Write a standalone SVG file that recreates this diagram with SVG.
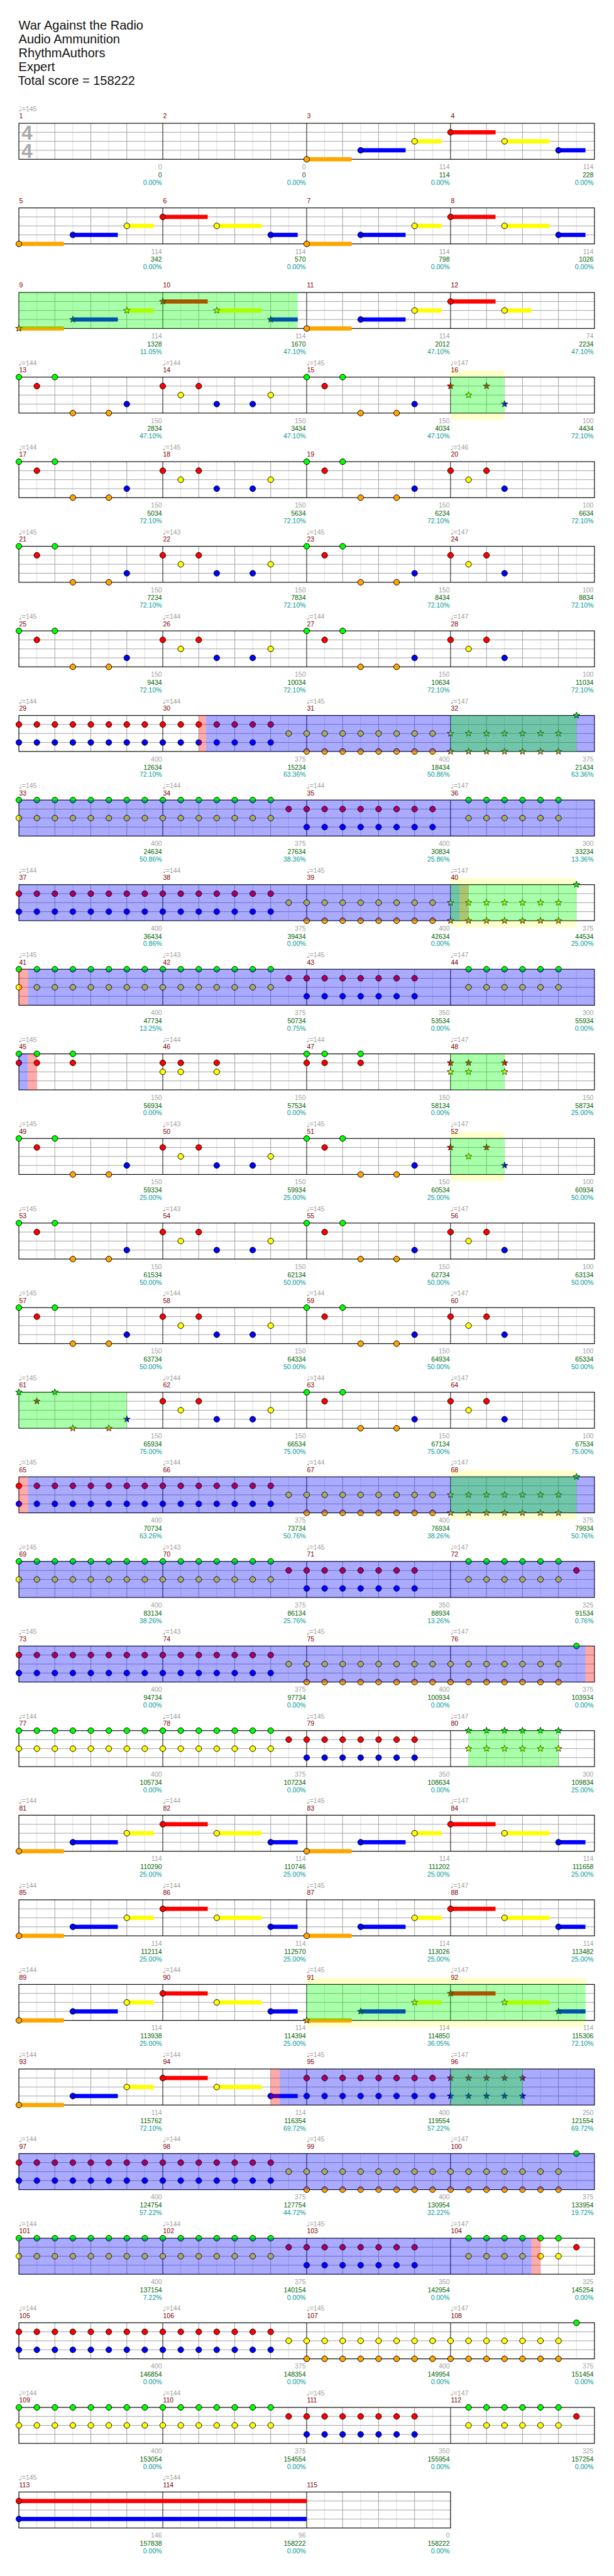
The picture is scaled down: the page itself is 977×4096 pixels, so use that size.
<svg xmlns="http://www.w3.org/2000/svg" width="977" height="4096" viewBox="0 0 977 4096">
<style>
.h{font:21px "Liberation Sans",Arial,sans-serif;fill:#111}
.mn{font:11px "Liberation Sans",Arial,sans-serif;fill:#800000}
.tp{font:11px "Liberation Sans",Arial,sans-serif;fill:#a0a0a0}
.q{font:12px "DejaVu Sans",sans-serif;fill:#a0a0a0}
.ts{font:bold 33px "Liberation Sans",Arial,sans-serif;fill:#aaaaaa}
.a,.b,.c{font:11px "Liberation Sans",Arial,sans-serif;text-anchor:end}
.a{fill:#a0a0a0}.b{fill:#006400}.c{fill:#009999}
.og{fill:#00ff00;fill-opacity:.333}
.ob{fill:#0000ff;fill-opacity:.333}
.or{fill:#ff0000;fill-opacity:.333}
.yt{fill:#ffffcc}
</style>
<defs>
<circle id="nG" r="4.8" fill="#00ff00" stroke="#000"/>
<circle id="nR" r="4.8" fill="#ff0000" stroke="#000"/>
<circle id="nY" r="4.8" fill="#ffff00" stroke="#000"/>
<circle id="nB" r="4.8" fill="#0000ff" stroke="#000"/>
<circle id="nO" r="4.8" fill="#ffa500" stroke="#000"/>
<path id="st" d="M0,-5.8L1.35,-1.86L5.52,-1.79L2.19,0.71L3.41,4.69L0,2.3L-3.41,4.69L-2.19,0.71L-5.52,-1.79L-1.35,-1.86Z" stroke="#000" stroke-width="0.8"/>
<use id="sG" href="#st" fill="#00ff00"/>
<use id="sR" href="#st" fill="#ff0000"/>
<use id="sY" href="#st" fill="#ffff00"/>
<use id="sB" href="#st" fill="#0000ff"/>
<use id="sO" href="#st" fill="#ffa500"/>
<g id="S4">
<rect width="960" height="60" fill="#fff"/>
<path stroke="#dcdcdc" d="M30 0V60M90 0V60M150 0V60M210 0V60M270 0V60M330 0V60M390 0V60M450 0V60M510 0V60M570 0V60M630 0V60M690 0V60M750 0V60M810 0V60M870 0V60M930 0V60"/>
<path stroke="#a0a0a0" d="M60 0V60M120 0V60M180 0V60M300 0V60M360 0V60M420 0V60M540 0V60M600 0V60M660 0V60M780 0V60M840 0V60M900 0V60M0 15H960M0 30H960M0 45H960"/>
<path stroke="#000" d="M240 0V60M480 0V60M720 0V60"/>
<rect width="960" height="60" fill="none" stroke="#000" stroke-width="1.2"/>
</g>
<g id="S3">
<rect width="720" height="60" fill="#fff"/>
<path stroke="#dcdcdc" d="M30 0V60M90 0V60M150 0V60M210 0V60M270 0V60M330 0V60M390 0V60M450 0V60M510 0V60M570 0V60M630 0V60M690 0V60"/>
<path stroke="#a0a0a0" d="M60 0V60M120 0V60M180 0V60M300 0V60M360 0V60M420 0V60M540 0V60M600 0V60M660 0V60M0 15H720M0 30H720M0 45H720"/>
<path stroke="#000" d="M240 0V60M480 0V60"/>
<rect width="720" height="60" fill="none" stroke="#000" stroke-width="1.2"/>
</g>
<g id="cGY"><use href="#nG"/><use href="#nY" y="30"/></g>
<g id="cRB"><use href="#nR" y="15"/><use href="#nB" y="45"/></g>
<g id="cYO"><use href="#nY" y="30"/><use href="#nO" y="60"/></g>
<g id="cGR"><use href="#nG"/><use href="#nR" y="15"/></g>
<g id="cRY"><use href="#nR" y="15"/><use href="#nY" y="30"/></g>
<g id="kYO"><use href="#sY" y="30"/><use href="#sO" y="60"/></g>
<g id="kGY"><use href="#sG"/><use href="#sY" y="30"/></g>
<g id="kRB"><use href="#sR" y="15"/><use href="#sB" y="45"/></g>
<g id="kRY"><use href="#sR" y="15"/><use href="#sY" y="30"/></g>
<g id="GY8"><use href="#cGY"/><use href="#cGY" x="30"/><use href="#cGY" x="60"/><use href="#cGY" x="90"/><use href="#cGY" x="120"/><use href="#cGY" x="150"/><use href="#cGY" x="180"/><use href="#cGY" x="210"/></g>
<g id="GY7"><use href="#cGY"/><use href="#cGY" x="30"/><use href="#cGY" x="60"/><use href="#cGY" x="90"/><use href="#cGY" x="120"/><use href="#cGY" x="150"/><use href="#cGY" x="180"/></g>
<g id="GY6"><use href="#cGY" x="30"/><use href="#cGY" x="60"/><use href="#cGY" x="90"/><use href="#cGY" x="120"/><use href="#cGY" x="150"/><use href="#cGY" x="180"/></g>
<g id="kGY6"><use href="#kGY" x="30"/><use href="#kGY" x="60"/><use href="#kGY" x="90"/><use href="#kGY" x="120"/><use href="#kGY" x="150"/><use href="#kGY" x="180"/></g>
<g id="RB8"><use href="#cRB"/><use href="#cRB" x="30"/><use href="#cRB" x="60"/><use href="#cRB" x="90"/><use href="#cRB" x="120"/><use href="#cRB" x="150"/><use href="#cRB" x="180"/><use href="#cRB" x="210"/></g>
<g id="RB7"><use href="#cRB"/><use href="#cRB" x="30"/><use href="#cRB" x="60"/><use href="#cRB" x="90"/><use href="#cRB" x="120"/><use href="#cRB" x="150"/><use href="#cRB" x="180"/></g>
<g id="kRB5"><use href="#kRB"/><use href="#kRB" x="30"/><use href="#kRB" x="60"/><use href="#kRB" x="90"/><use href="#kRB" x="120"/></g>
<g id="YO8"><use href="#cYO"/><use href="#cYO" x="30"/><use href="#cYO" x="60"/><use href="#cYO" x="90"/><use href="#cYO" x="120"/><use href="#cYO" x="150"/><use href="#cYO" x="180"/><use href="#cYO" x="210"/></g>
<g id="YO7"><use href="#cYO"/><use href="#cYO" x="30"/><use href="#cYO" x="60"/><use href="#cYO" x="90"/><use href="#cYO" x="120"/><use href="#cYO" x="150"/><use href="#cYO" x="180"/></g>
<g id="kYO7"><use href="#kYO"/><use href="#kYO" x="30"/><use href="#kYO" x="60"/><use href="#kYO" x="90"/><use href="#kYO" x="120"/><use href="#kYO" x="150"/><use href="#kYO" x="180"/></g>
<g id="GR3"><use href="#cGR"/><use href="#cGR" x="30"/><use href="#cGR" x="90"/></g>
<g id="RY3"><use href="#cRY"/><use href="#cRY" x="30"/><use href="#cRY" x="90"/></g>
<g id="kRY3"><use href="#kRY"/><use href="#kRY" x="30"/><use href="#kRY" x="90"/></g>
<g id="PB"><use href="#nG"/><use href="#nR" x="30" y="15"/><use href="#nG" x="60"/><use href="#nO" x="90" y="60"/><use href="#nO" x="150" y="60"/><use href="#nB" x="180" y="45"/></g>
<g id="kB"><use href="#sG"/><use href="#sR" x="30" y="15"/><use href="#sG" x="60"/><use href="#sO" x="90" y="60"/><use href="#sO" x="150" y="60"/><use href="#sB" x="180" y="45"/></g>
<g id="PC"><use href="#nR" y="15"/><use href="#nY" x="30" y="30"/><use href="#nR" x="60" y="15"/><use href="#nB" x="90" y="45"/><use href="#nB" x="150" y="45"/><use href="#nY" x="180" y="30"/></g>
<g id="PD"><use href="#nR" y="15"/><use href="#nY" x="30" y="30"/><use href="#nR" x="60" y="15"/><use href="#nB" x="90" y="45"/></g>
<g id="kD"><use href="#sR" y="15"/><use href="#sY" x="30" y="30"/><use href="#sR" x="60" y="15"/><use href="#sB" x="90" y="45"/></g>
<g id="A"><rect y="56.5" width="75" height="7" fill="#ffa500"/><use href="#nO" y="60"/><rect x="90" y="41.5" width="75" height="7" fill="#0000ff"/><use href="#nB" x="90" y="45"/><rect x="180" y="26.5" width="45" height="7" fill="#ffff00"/><use href="#nY" x="180" y="30"/><rect x="240" y="11.5" width="75" height="7" fill="#ff0000"/><use href="#nR" x="240" y="15"/><rect x="330" y="26.5" width="75" height="7" fill="#ffff00"/><use href="#nY" x="330" y="30"/><rect x="420" y="41.5" width="45" height="7" fill="#0000ff"/><use href="#nB" x="420" y="45"/></g>
<g id="sA"><rect y="56.5" width="75" height="7" fill="#ffa500"/><use href="#sO" y="60"/><rect x="90" y="41.5" width="75" height="7" fill="#0000ff"/><use href="#sB" x="90" y="45"/><rect x="180" y="26.5" width="45" height="7" fill="#ffff00"/><use href="#sY" x="180" y="30"/><rect x="240" y="11.5" width="75" height="7" fill="#ff0000"/><use href="#sR" x="240" y="15"/><rect x="330" y="26.5" width="75" height="7" fill="#ffff00"/><use href="#sY" x="330" y="30"/><rect x="420" y="41.5" width="45" height="7" fill="#0000ff"/><use href="#sB" x="420" y="45"/></g>
<g id="A2"><rect y="56.5" width="75" height="7" fill="#ffa500"/><use href="#nO" y="60"/><rect x="90" y="41.5" width="75" height="7" fill="#0000ff"/><use href="#nB" x="90" y="45"/><rect x="180" y="26.5" width="45" height="7" fill="#ffff00"/><use href="#nY" x="180" y="30"/><rect x="240" y="11.5" width="75" height="7" fill="#ff0000"/><use href="#nR" x="240" y="15"/><rect x="330" y="26.5" width="45" height="7" fill="#ffff00"/><use href="#nY" x="330" y="30"/></g>
<text id="Q4" class="q" y="-19.5"><tspan x="-0.5">♩</tspan><tspan x="239.5">♩</tspan><tspan x="479.5">♩</tspan><tspan x="719.5">♩</tspan></text>
<text id="T1" class="tp" y="-20"><tspan x="5">=144</tspan><tspan x="245">=144</tspan><tspan x="485">=145</tspan><tspan x="725">=147</tspan></text>
<text id="T2" class="tp" y="-20"><tspan x="5">=145</tspan><tspan x="245">=143</tspan><tspan x="485">=145</tspan><tspan x="725">=147</tspan></text>
<text id="T3" class="tp" y="-20"><tspan x="5">=145</tspan><tspan x="245">=144</tspan><tspan x="485">=144</tspan><tspan x="725">=147</tspan></text>
</defs>
<rect width="977" height="4096" fill="#fff"/>
<g transform="scale(0.954)">
<g id="header">
<text class="h" x="31" y="49.5">War Against the Radio</text>
<text class="h" x="31" y="72.5">Audio Ammunition</text>
<text class="h" x="31" y="95.5">RhythmAuthors</text>
<text class="h" x="31" y="118.5">Expert</text>
<text class="h" x="30" y="141.5">Total score = 158222</text>
</g>

<g id="row01" transform="translate(31.5,205.5)">
<use href="#S4"/>
<text class="ts" x="4.5" y="27.5">4</text><text class="ts" x="4.5" y="57.5">4</text>
<use href="#A" x="480"/>
<text class="q" y="-19.5" x="-0.5">♩</text><text class="tp" y="-20" x="5">=145</text>
<text class="mn" y="-8"><tspan x="0.5">1</tspan><tspan x="240.5">2</tspan><tspan x="480.5">3</tspan><tspan x="720.5">4</tspan></text>
<text class="a" y="76.5"><tspan x="238.5">0</tspan><tspan x="478.5">0</tspan><tspan x="718.5">114</tspan><tspan x="958.5">114</tspan></text>
<text class="b" y="90"><tspan x="238.5">0</tspan><tspan x="478.5">0</tspan><tspan x="718.5">114</tspan><tspan x="958.5">228</tspan></text>
<text class="c" y="102.5"><tspan x="238.5">0.00%</tspan><tspan x="478.5">0.00%</tspan><tspan x="718.5">0.00%</tspan><tspan x="958.5">0.00%</tspan></text>
</g>

<g id="row02" transform="translate(31.5,346.5)">
<use href="#S4"/>
<use href="#A"/><use href="#A" x="480"/>
<text class="mn" y="-8"><tspan x="0.5">5</tspan><tspan x="240.5">6</tspan><tspan x="480.5">7</tspan><tspan x="720.5">8</tspan></text>
<text class="a" y="76.5"><tspan x="238.5">114</tspan><tspan x="478.5">114</tspan><tspan x="718.5">114</tspan><tspan x="958.5">114</tspan></text>
<text class="b" y="90"><tspan x="238.5">342</tspan><tspan x="478.5">570</tspan><tspan x="718.5">798</tspan><tspan x="958.5">1026</tspan></text>
<text class="c" y="102.5"><tspan x="238.5">0.00%</tspan><tspan x="478.5">0.00%</tspan><tspan x="718.5">0.00%</tspan><tspan x="958.5">0.00%</tspan></text>
</g>

<g id="row03" transform="translate(31.5,487.5)">
<use href="#S4"/>
<use href="#sA"/><use href="#A2" x="480"/>
<rect class="og" width="465" height="60"/>
<text class="mn" y="-8"><tspan x="0.5">9</tspan><tspan x="240.5">10</tspan><tspan x="480.5">11</tspan><tspan x="720.5">12</tspan></text>
<text class="a" y="76.5"><tspan x="238.5">114</tspan><tspan x="478.5">114</tspan><tspan x="718.5">114</tspan><tspan x="958.5">74</tspan></text>
<text class="b" y="90"><tspan x="238.5">1328</tspan><tspan x="478.5">1670</tspan><tspan x="718.5">2012</tspan><tspan x="958.5">2234</tspan></text>
<text class="c" y="102.5"><tspan x="238.5">11.05%</tspan><tspan x="478.5">47.10%</tspan><tspan x="718.5">47.10%</tspan><tspan x="958.5">47.10%</tspan></text>
</g>

<g id="row04" transform="translate(31.5,628.5)">
<rect class="yt" x="720" y="-11" width="90" height="82"/>
<use href="#S4"/>
<use href="#PB"/><use href="#PC" x="240"/><use href="#PB" x="480"/><use href="#kD" x="720"/>
<rect class="og" x="720" width="90" height="60"/>
<use href="#Q4"/><use href="#T1"/>
<text class="mn" y="-8"><tspan x="0.5">13</tspan><tspan x="240.5">14</tspan><tspan x="480.5">15</tspan><tspan x="720.5">16</tspan></text>
<text class="a" y="76.5"><tspan x="238.5">150</tspan><tspan x="478.5">150</tspan><tspan x="718.5">150</tspan><tspan x="958.5">100</tspan></text>
<text class="b" y="90"><tspan x="238.5">2834</tspan><tspan x="478.5">3434</tspan><tspan x="718.5">4034</tspan><tspan x="958.5">4434</tspan></text>
<text class="c" y="102.5"><tspan x="238.5">47.10%</tspan><tspan x="478.5">47.10%</tspan><tspan x="718.5">47.10%</tspan><tspan x="958.5">72.10%</tspan></text>
</g>

<g id="row05" transform="translate(31.5,769.5)">
<use href="#S4"/>
<use href="#PB"/><use href="#PC" x="240"/><use href="#PB" x="480"/><use href="#PD" x="720"/>
<text class="q" y="-19.5"><tspan x="-0.5">♩</tspan><tspan x="239.5">♩</tspan><tspan x="719.5">♩</tspan></text>
<text class="tp" y="-20"><tspan x="5">=144</tspan><tspan x="245">=145</tspan><tspan x="725">=146</tspan></text>
<text class="mn" y="-8"><tspan x="0.5">17</tspan><tspan x="240.5">18</tspan><tspan x="480.5">19</tspan><tspan x="720.5">20</tspan></text>
<text class="a" y="76.5"><tspan x="238.5">150</tspan><tspan x="478.5">150</tspan><tspan x="718.5">150</tspan><tspan x="958.5">100</tspan></text>
<text class="b" y="90"><tspan x="238.5">5034</tspan><tspan x="478.5">5634</tspan><tspan x="718.5">6234</tspan><tspan x="958.5">6634</tspan></text>
<text class="c" y="102.5"><tspan x="238.5">72.10%</tspan><tspan x="478.5">72.10%</tspan><tspan x="718.5">72.10%</tspan><tspan x="958.5">72.10%</tspan></text>
</g>

<g id="row06" transform="translate(31.5,910.5)">
<use href="#S4"/>
<use href="#PB"/><use href="#PC" x="240"/><use href="#PB" x="480"/><use href="#PD" x="720"/>
<use href="#Q4"/><use href="#T2"/>
<text class="mn" y="-8"><tspan x="0.5">21</tspan><tspan x="240.5">22</tspan><tspan x="480.5">23</tspan><tspan x="720.5">24</tspan></text>
<text class="a" y="76.5"><tspan x="238.5">150</tspan><tspan x="478.5">150</tspan><tspan x="718.5">150</tspan><tspan x="958.5">100</tspan></text>
<text class="b" y="90"><tspan x="238.5">7234</tspan><tspan x="478.5">7834</tspan><tspan x="718.5">8434</tspan><tspan x="958.5">8834</tspan></text>
<text class="c" y="102.5"><tspan x="238.5">72.10%</tspan><tspan x="478.5">72.10%</tspan><tspan x="718.5">72.10%</tspan><tspan x="958.5">72.10%</tspan></text>
</g>

<g id="row07" transform="translate(31.5,1051.5)">
<use href="#S4"/>
<use href="#PB"/><use href="#PC" x="240"/><use href="#PB" x="480"/><use href="#PD" x="720"/>
<use href="#Q4"/><use href="#T3"/>
<text class="mn" y="-8"><tspan x="0.5">25</tspan><tspan x="240.5">26</tspan><tspan x="480.5">27</tspan><tspan x="720.5">28</tspan></text>
<text class="a" y="76.5"><tspan x="238.5">150</tspan><tspan x="478.5">150</tspan><tspan x="718.5">150</tspan><tspan x="958.5">100</tspan></text>
<text class="b" y="90"><tspan x="238.5">9434</tspan><tspan x="478.5">10034</tspan><tspan x="718.5">10634</tspan><tspan x="958.5">11034</tspan></text>
<text class="c" y="102.5"><tspan x="238.5">72.10%</tspan><tspan x="478.5">72.10%</tspan><tspan x="718.5">72.10%</tspan><tspan x="958.5">72.10%</tspan></text>
</g>

<g id="row08" transform="translate(31.5,1192.5)">
<use href="#S4"/>
<use href="#RB8"/><use href="#RB7" x="240"/><use href="#nY" x="450" y="30"/><use href="#YO8" x="480"/><use href="#kYO7" x="720"/><use href="#sG" x="930"/>
<rect class="or" x="300" width="12" height="60"/><rect class="ob" x="312" width="648" height="60"/><rect class="og" x="720" width="210" height="60"/>
<use href="#Q4"/><use href="#T1"/>
<text class="mn" y="-8"><tspan x="0.5">29</tspan><tspan x="240.5">30</tspan><tspan x="480.5">31</tspan><tspan x="720.5">32</tspan></text>
<text class="a" y="76.5"><tspan x="238.5">400</tspan><tspan x="478.5">375</tspan><tspan x="718.5">400</tspan><tspan x="958.5">375</tspan></text>
<text class="b" y="90"><tspan x="238.5">12634</tspan><tspan x="478.5">15234</tspan><tspan x="718.5">18434</tspan><tspan x="958.5">21434</tspan></text>
<text class="c" y="102.5"><tspan x="238.5">72.10%</tspan><tspan x="478.5">63.36%</tspan><tspan x="718.5">50.86%</tspan><tspan x="958.5">63.36%</tspan></text>
</g>

<g id="row09" transform="translate(31.5,1333.5)">
<use href="#S4"/>
<use href="#GY8"/><use href="#GY7" x="240"/><use href="#nR" x="450" y="15"/><use href="#RB8" x="480"/><use href="#GY6" x="720"/>
<rect class="ob" width="960" height="60"/>
<use href="#Q4"/><use href="#T3"/>
<text class="mn" y="-8"><tspan x="0.5">33</tspan><tspan x="240.5">34</tspan><tspan x="480.5">35</tspan><tspan x="720.5">36</tspan></text>
<text class="a" y="76.5"><tspan x="238.5">400</tspan><tspan x="478.5">375</tspan><tspan x="718.5">400</tspan><tspan x="958.5">300</tspan></text>
<text class="b" y="90"><tspan x="238.5">24634</tspan><tspan x="478.5">27634</tspan><tspan x="718.5">30834</tspan><tspan x="958.5">33234</tspan></text>
<text class="c" y="102.5"><tspan x="238.5">50.86%</tspan><tspan x="478.5">38.36%</tspan><tspan x="718.5">25.86%</tspan><tspan x="958.5">13.36%</tspan></text>
</g>

<g id="row10" transform="translate(31.5,1474.5)">
<rect class="yt" x="720" y="-11" width="210" height="82"/>
<use href="#S4"/>
<use href="#RB8"/><use href="#RB7" x="240"/><use href="#nY" x="450" y="30"/><use href="#YO8" x="480"/><use href="#kYO7" x="720"/><use href="#sG" x="930"/>
<rect class="ob" width="735" height="60"/><rect class="or" x="735" width="15" height="60"/><rect class="og" x="720" width="210" height="60"/>
<use href="#Q4"/><use href="#T1"/>
<text class="mn" y="-8"><tspan x="0.5">37</tspan><tspan x="240.5">38</tspan><tspan x="480.5">39</tspan><tspan x="720.5">40</tspan></text>
<text class="a" y="76.5"><tspan x="238.5">400</tspan><tspan x="478.5">375</tspan><tspan x="718.5">400</tspan><tspan x="958.5">375</tspan></text>
<text class="b" y="90"><tspan x="238.5">36434</tspan><tspan x="478.5">39434</tspan><tspan x="718.5">42634</tspan><tspan x="958.5">44534</tspan></text>
<text class="c" y="102.5"><tspan x="238.5">0.86%</tspan><tspan x="478.5">0.00%</tspan><tspan x="718.5">0.00%</tspan><tspan x="958.5">25.00%</tspan></text>
</g>

<g id="row11" transform="translate(31.5,1615.5)">
<use href="#S4"/>
<use href="#GY8"/><use href="#GY7" x="240"/><use href="#nR" x="450" y="15"/><use href="#RB7" x="480"/><use href="#GY6" x="720"/>
<rect class="or" width="15" height="60"/><rect class="ob" x="15" width="945" height="60"/>
<use href="#Q4"/><use href="#T2"/>
<text class="mn" y="-8"><tspan x="0.5">41</tspan><tspan x="240.5">42</tspan><tspan x="480.5">43</tspan><tspan x="720.5">44</tspan></text>
<text class="a" y="76.5"><tspan x="238.5">400</tspan><tspan x="478.5">375</tspan><tspan x="718.5">350</tspan><tspan x="958.5">300</tspan></text>
<text class="b" y="90"><tspan x="238.5">47734</tspan><tspan x="478.5">50734</tspan><tspan x="718.5">53534</tspan><tspan x="958.5">55934</tspan></text>
<text class="c" y="102.5"><tspan x="238.5">13.25%</tspan><tspan x="478.5">0.75%</tspan><tspan x="718.5">0.00%</tspan><tspan x="958.5">0.00%</tspan></text>
</g>

<g id="row12" transform="translate(31.5,1756.5)">
<use href="#S4"/>
<use href="#GR3"/><use href="#RY3" x="240"/><use href="#GR3" x="480"/><use href="#kRY3" x="720"/>
<rect class="ob" width="15" height="60"/><rect class="or" x="15" width="15" height="60"/><rect class="og" x="720" width="90" height="60"/>
<use href="#Q4"/><use href="#T3"/>
<text class="mn" y="-8"><tspan x="0.5">45</tspan><tspan x="240.5">46</tspan><tspan x="480.5">47</tspan><tspan x="720.5">48</tspan></text>
<text class="a" y="76.5"><tspan x="238.5">150</tspan><tspan x="478.5">150</tspan><tspan x="718.5">150</tspan><tspan x="958.5">150</tspan></text>
<text class="b" y="90"><tspan x="238.5">56934</tspan><tspan x="478.5">57534</tspan><tspan x="718.5">58134</tspan><tspan x="958.5">58734</tspan></text>
<text class="c" y="102.5"><tspan x="238.5">0.00%</tspan><tspan x="478.5">0.00%</tspan><tspan x="718.5">0.00%</tspan><tspan x="958.5">25.00%</tspan></text>
</g>

<g id="row13" transform="translate(31.5,1897.5)">
<rect class="yt" x="720" y="-11" width="90" height="82"/>
<use href="#S4"/>
<use href="#PB"/><use href="#PC" x="240"/><use href="#PB" x="480"/><use href="#kD" x="720"/>
<rect class="og" x="720" width="90" height="60"/>
<use href="#Q4"/><use href="#T2"/>
<text class="mn" y="-8"><tspan x="0.5">49</tspan><tspan x="240.5">50</tspan><tspan x="480.5">51</tspan><tspan x="720.5">52</tspan></text>
<text class="a" y="76.5"><tspan x="238.5">150</tspan><tspan x="478.5">150</tspan><tspan x="718.5">150</tspan><tspan x="958.5">100</tspan></text>
<text class="b" y="90"><tspan x="238.5">59334</tspan><tspan x="478.5">59934</tspan><tspan x="718.5">60534</tspan><tspan x="958.5">60934</tspan></text>
<text class="c" y="102.5"><tspan x="238.5">25.00%</tspan><tspan x="478.5">25.00%</tspan><tspan x="718.5">25.00%</tspan><tspan x="958.5">50.00%</tspan></text>
</g>

<g id="row14" transform="translate(31.5,2038.5)">
<use href="#S4"/>
<use href="#PB"/><use href="#PC" x="240"/><use href="#PB" x="480"/><use href="#PD" x="720"/>
<use href="#Q4"/><use href="#T2"/>
<text class="mn" y="-8"><tspan x="0.5">53</tspan><tspan x="240.5">54</tspan><tspan x="480.5">55</tspan><tspan x="720.5">56</tspan></text>
<text class="a" y="76.5"><tspan x="238.5">150</tspan><tspan x="478.5">150</tspan><tspan x="718.5">150</tspan><tspan x="958.5">100</tspan></text>
<text class="b" y="90"><tspan x="238.5">61534</tspan><tspan x="478.5">62134</tspan><tspan x="718.5">62734</tspan><tspan x="958.5">63134</tspan></text>
<text class="c" y="102.5"><tspan x="238.5">50.00%</tspan><tspan x="478.5">50.00%</tspan><tspan x="718.5">50.00%</tspan><tspan x="958.5">50.00%</tspan></text>
</g>

<g id="row15" transform="translate(31.5,2179.5)">
<use href="#S4"/>
<use href="#PB"/><use href="#PC" x="240"/><use href="#PB" x="480"/><use href="#PD" x="720"/>
<use href="#Q4"/><use href="#T3"/>
<text class="mn" y="-8"><tspan x="0.5">57</tspan><tspan x="240.5">58</tspan><tspan x="480.5">59</tspan><tspan x="720.5">60</tspan></text>
<text class="a" y="76.5"><tspan x="238.5">150</tspan><tspan x="478.5">150</tspan><tspan x="718.5">150</tspan><tspan x="958.5">100</tspan></text>
<text class="b" y="90"><tspan x="238.5">63734</tspan><tspan x="478.5">64334</tspan><tspan x="718.5">64934</tspan><tspan x="958.5">65334</tspan></text>
<text class="c" y="102.5"><tspan x="238.5">50.00%</tspan><tspan x="478.5">50.00%</tspan><tspan x="718.5">50.00%</tspan><tspan x="958.5">50.00%</tspan></text>
</g>

<g id="row16" transform="translate(31.5,2320.5)">
<use href="#S4"/>
<use href="#kB"/><use href="#PC" x="240"/><use href="#PB" x="480"/><use href="#PD" x="720"/>
<rect class="og" width="180" height="60"/>
<use href="#Q4"/><use href="#T3"/>
<text class="mn" y="-8"><tspan x="0.5">61</tspan><tspan x="240.5">62</tspan><tspan x="480.5">63</tspan><tspan x="720.5">64</tspan></text>
<text class="a" y="76.5"><tspan x="238.5">150</tspan><tspan x="478.5">150</tspan><tspan x="718.5">150</tspan><tspan x="958.5">100</tspan></text>
<text class="b" y="90"><tspan x="238.5">65934</tspan><tspan x="478.5">66534</tspan><tspan x="718.5">67134</tspan><tspan x="958.5">67534</tspan></text>
<text class="c" y="102.5"><tspan x="238.5">75.00%</tspan><tspan x="478.5">75.00%</tspan><tspan x="718.5">75.00%</tspan><tspan x="958.5">75.00%</tspan></text>
</g>

<g id="row17" transform="translate(31.5,2461.5)">
<rect class="yt" x="720" y="-11" width="210" height="82"/>
<use href="#S4"/>
<use href="#RB8"/><use href="#RB7" x="240"/><use href="#nY" x="450" y="30"/><use href="#YO8" x="480"/><use href="#kYO7" x="720"/><use href="#sG" x="930"/>
<rect class="or" width="15" height="60"/><rect class="ob" x="15" width="945" height="60"/><rect class="og" x="720" width="210" height="60"/>
<use href="#Q4"/><use href="#T3"/>
<text class="mn" y="-8"><tspan x="0.5">65</tspan><tspan x="240.5">66</tspan><tspan x="480.5">67</tspan><tspan x="720.5">68</tspan></text>
<text class="a" y="76.5"><tspan x="238.5">400</tspan><tspan x="478.5">375</tspan><tspan x="718.5">400</tspan><tspan x="958.5">375</tspan></text>
<text class="b" y="90"><tspan x="238.5">70734</tspan><tspan x="478.5">73734</tspan><tspan x="718.5">76934</tspan><tspan x="958.5">79934</tspan></text>
<text class="c" y="102.5"><tspan x="238.5">63.26%</tspan><tspan x="478.5">50.76%</tspan><tspan x="718.5">38.26%</tspan><tspan x="958.5">50.76%</tspan></text>
</g>

<g id="row18" transform="translate(31.5,2602.5)">
<use href="#S4"/>
<use href="#GY8"/><use href="#GY7" x="240"/><use href="#nR" x="450" y="15"/><use href="#RB7" x="480"/><use href="#GY6" x="720"/><use href="#nR" x="930" y="15"/>
<rect class="ob" width="960" height="60"/>
<use href="#Q4"/><use href="#T2"/>
<text class="mn" y="-8"><tspan x="0.5">69</tspan><tspan x="240.5">70</tspan><tspan x="480.5">71</tspan><tspan x="720.5">72</tspan></text>
<text class="a" y="76.5"><tspan x="238.5">400</tspan><tspan x="478.5">375</tspan><tspan x="718.5">350</tspan><tspan x="958.5">325</tspan></text>
<text class="b" y="90"><tspan x="238.5">83134</tspan><tspan x="478.5">86134</tspan><tspan x="718.5">88934</tspan><tspan x="958.5">91534</tspan></text>
<text class="c" y="102.5"><tspan x="238.5">38.26%</tspan><tspan x="478.5">25.76%</tspan><tspan x="718.5">13.26%</tspan><tspan x="958.5">0.76%</tspan></text>
</g>

<g id="row19" transform="translate(31.5,2743.5)">
<use href="#S4"/>
<use href="#RB8"/><use href="#RB7" x="240"/><use href="#nY" x="450" y="30"/><use href="#YO8" x="480"/><use href="#YO7" x="720"/><use href="#nG" x="930"/>
<rect class="ob" width="945" height="60"/><rect class="or" x="945" width="15" height="60"/>
<use href="#Q4"/><use href="#T2"/>
<text class="mn" y="-8"><tspan x="0.5">73</tspan><tspan x="240.5">74</tspan><tspan x="480.5">75</tspan><tspan x="720.5">76</tspan></text>
<text class="a" y="76.5"><tspan x="238.5">400</tspan><tspan x="478.5">375</tspan><tspan x="718.5">400</tspan><tspan x="958.5">375</tspan></text>
<text class="b" y="90"><tspan x="238.5">94734</tspan><tspan x="478.5">97734</tspan><tspan x="718.5">100934</tspan><tspan x="958.5">103934</tspan></text>
<text class="c" y="102.5"><tspan x="238.5">0.00%</tspan><tspan x="478.5">0.00%</tspan><tspan x="718.5">0.00%</tspan><tspan x="958.5">0.00%</tspan></text>
</g>

<g id="row20" transform="translate(31.5,2884.5)">
<use href="#S4"/>
<use href="#GY8"/><use href="#GY7" x="240"/><use href="#nR" x="450" y="15"/><use href="#RB7" x="480"/><use href="#kGY6" x="720"/>
<rect class="og" x="750" width="150" height="60"/>
<use href="#Q4"/><use href="#T1"/>
<text class="mn" y="-8"><tspan x="0.5">77</tspan><tspan x="240.5">78</tspan><tspan x="480.5">79</tspan><tspan x="720.5">80</tspan></text>
<text class="a" y="76.5"><tspan x="238.5">400</tspan><tspan x="478.5">375</tspan><tspan x="718.5">350</tspan><tspan x="958.5">300</tspan></text>
<text class="b" y="90"><tspan x="238.5">105734</tspan><tspan x="478.5">107234</tspan><tspan x="718.5">108634</tspan><tspan x="958.5">109834</tspan></text>
<text class="c" y="102.5"><tspan x="238.5">0.00%</tspan><tspan x="478.5">0.00%</tspan><tspan x="718.5">0.00%</tspan><tspan x="958.5">25.00%</tspan></text>
</g>

<g id="row21" transform="translate(31.5,3025.5)">
<use href="#S4"/>
<use href="#A"/><use href="#A" x="480"/>
<use href="#Q4"/><use href="#T1"/>
<text class="mn" y="-8"><tspan x="0.5">81</tspan><tspan x="240.5">82</tspan><tspan x="480.5">83</tspan><tspan x="720.5">84</tspan></text>
<text class="a" y="76.5"><tspan x="238.5">114</tspan><tspan x="478.5">114</tspan><tspan x="718.5">114</tspan><tspan x="958.5">114</tspan></text>
<text class="b" y="90"><tspan x="238.5">110290</tspan><tspan x="478.5">110746</tspan><tspan x="718.5">111202</tspan><tspan x="958.5">111658</tspan></text>
<text class="c" y="102.5"><tspan x="238.5">25.00%</tspan><tspan x="478.5">25.00%</tspan><tspan x="718.5">25.00%</tspan><tspan x="958.5">25.00%</tspan></text>
</g>

<g id="row22" transform="translate(31.5,3166.5)">
<use href="#S4"/>
<use href="#A"/><use href="#A" x="480"/>
<use href="#Q4"/><use href="#T1"/>
<text class="mn" y="-8"><tspan x="0.5">85</tspan><tspan x="240.5">86</tspan><tspan x="480.5">87</tspan><tspan x="720.5">88</tspan></text>
<text class="a" y="76.5"><tspan x="238.5">114</tspan><tspan x="478.5">114</tspan><tspan x="718.5">114</tspan><tspan x="958.5">114</tspan></text>
<text class="b" y="90"><tspan x="238.5">112114</tspan><tspan x="478.5">112570</tspan><tspan x="718.5">113026</tspan><tspan x="958.5">113482</tspan></text>
<text class="c" y="102.5"><tspan x="238.5">25.00%</tspan><tspan x="478.5">25.00%</tspan><tspan x="718.5">25.00%</tspan><tspan x="958.5">25.00%</tspan></text>
</g>

<g id="row23" transform="translate(31.5,3307.5)">
<rect class="yt" x="480" y="-11" width="465" height="82"/>
<use href="#S4"/>
<use href="#A"/><use href="#sA" x="480"/>
<rect class="og" x="480" width="465" height="60"/>
<use href="#Q4"/><use href="#T1"/>
<text class="mn" y="-8"><tspan x="0.5">89</tspan><tspan x="240.5">90</tspan><tspan x="480.5">91</tspan><tspan x="720.5">92</tspan></text>
<text class="a" y="76.5"><tspan x="238.5">114</tspan><tspan x="478.5">114</tspan><tspan x="718.5">114</tspan><tspan x="958.5">114</tspan></text>
<text class="b" y="90"><tspan x="238.5">113938</tspan><tspan x="478.5">114394</tspan><tspan x="718.5">114850</tspan><tspan x="958.5">115306</tspan></text>
<text class="c" y="102.5"><tspan x="238.5">25.00%</tspan><tspan x="478.5">25.00%</tspan><tspan x="718.5">36.05%</tspan><tspan x="958.5">72.10%</tspan></text>
</g>

<g id="row24" transform="translate(31.5,3448.5)">
<use href="#S4"/>
<use href="#A"/><use href="#RB8" x="480"/><use href="#kRB5" x="720"/>
<rect class="or" x="420" width="15" height="60"/><rect class="ob" x="435" width="525" height="60"/><rect class="og" x="720" width="120" height="60"/>
<use href="#Q4"/><use href="#T1"/>
<text class="mn" y="-8"><tspan x="0.5">93</tspan><tspan x="240.5">94</tspan><tspan x="480.5">95</tspan><tspan x="720.5">96</tspan></text>
<text class="a" y="76.5"><tspan x="238.5">114</tspan><tspan x="478.5">114</tspan><tspan x="718.5">400</tspan><tspan x="958.5">250</tspan></text>
<text class="b" y="90"><tspan x="238.5">115762</tspan><tspan x="478.5">116354</tspan><tspan x="718.5">119554</tspan><tspan x="958.5">121554</tspan></text>
<text class="c" y="102.5"><tspan x="238.5">72.10%</tspan><tspan x="478.5">69.72%</tspan><tspan x="718.5">57.22%</tspan><tspan x="958.5">69.72%</tspan></text>
</g>

<g id="row25" transform="translate(31.5,3589.5)">
<use href="#S4"/>
<use href="#RB8"/><use href="#RB7" x="240"/><use href="#nY" x="450" y="30"/><use href="#YO8" x="480"/><use href="#YO7" x="720"/><use href="#nG" x="930"/>
<rect class="ob" width="960" height="60"/>
<use href="#Q4"/><use href="#T1"/>
<text class="mn" y="-8"><tspan x="0.5">97</tspan><tspan x="240.5">98</tspan><tspan x="480.5">99</tspan><tspan x="720.5">100</tspan></text>
<text class="a" y="76.5"><tspan x="238.5">400</tspan><tspan x="478.5">375</tspan><tspan x="718.5">400</tspan><tspan x="958.5">375</tspan></text>
<text class="b" y="90"><tspan x="238.5">124754</tspan><tspan x="478.5">127754</tspan><tspan x="718.5">130954</tspan><tspan x="958.5">133954</tspan></text>
<text class="c" y="102.5"><tspan x="238.5">57.22%</tspan><tspan x="478.5">44.72%</tspan><tspan x="718.5">32.22%</tspan><tspan x="958.5">19.72%</tspan></text>
</g>

<g id="row26" transform="translate(31.5,3730.5)">
<use href="#S4"/>
<use href="#GY8"/><use href="#GY7" x="240"/><use href="#nR" x="450" y="15"/><use href="#RB7" x="480"/><use href="#GY6" x="720"/><use href="#nR" x="930" y="15"/>
<rect class="ob" width="855" height="60"/><rect class="or" x="855" width="15" height="60"/>
<use href="#Q4"/><use href="#T1"/>
<text class="mn" y="-8"><tspan x="0.5">101</tspan><tspan x="240.5">102</tspan><tspan x="480.5">103</tspan><tspan x="720.5">104</tspan></text>
<text class="a" y="76.5"><tspan x="238.5">400</tspan><tspan x="478.5">375</tspan><tspan x="718.5">350</tspan><tspan x="958.5">325</tspan></text>
<text class="b" y="90"><tspan x="238.5">137154</tspan><tspan x="478.5">140154</tspan><tspan x="718.5">142954</tspan><tspan x="958.5">145254</tspan></text>
<text class="c" y="102.5"><tspan x="238.5">7.22%</tspan><tspan x="478.5">0.00%</tspan><tspan x="718.5">0.00%</tspan><tspan x="958.5">0.00%</tspan></text>
</g>

<g id="row27" transform="translate(31.5,3871.5)">
<use href="#S4"/>
<use href="#RB8"/><use href="#RB7" x="240"/><use href="#nY" x="450" y="30"/><use href="#YO8" x="480"/><use href="#YO7" x="720"/><use href="#nG" x="930"/>
<use href="#Q4"/><use href="#T1"/>
<text class="mn" y="-8"><tspan x="0.5">105</tspan><tspan x="240.5">106</tspan><tspan x="480.5">107</tspan><tspan x="720.5">108</tspan></text>
<text class="a" y="76.5"><tspan x="238.5">400</tspan><tspan x="478.5">375</tspan><tspan x="718.5">400</tspan><tspan x="958.5">375</tspan></text>
<text class="b" y="90"><tspan x="238.5">146854</tspan><tspan x="478.5">148354</tspan><tspan x="718.5">149954</tspan><tspan x="958.5">151454</tspan></text>
<text class="c" y="102.5"><tspan x="238.5">0.00%</tspan><tspan x="478.5">0.00%</tspan><tspan x="718.5">0.00%</tspan><tspan x="958.5">0.00%</tspan></text>
</g>

<g id="row28" transform="translate(31.5,4012.5)">
<use href="#S4"/>
<use href="#GY8"/><use href="#GY7" x="240"/><use href="#nR" x="450" y="15"/><use href="#RB7" x="480"/><use href="#GY6" x="720"/><use href="#nR" x="930" y="15"/>
<use href="#Q4"/><use href="#T1"/>
<text class="mn" y="-8"><tspan x="0.5">109</tspan><tspan x="240.5">110</tspan><tspan x="480.5">111</tspan><tspan x="720.5">112</tspan></text>
<text class="a" y="76.5"><tspan x="238.5">400</tspan><tspan x="478.5">375</tspan><tspan x="718.5">350</tspan><tspan x="958.5">325</tspan></text>
<text class="b" y="90"><tspan x="238.5">153054</tspan><tspan x="478.5">154554</tspan><tspan x="718.5">155954</tspan><tspan x="958.5">157254</tspan></text>
<text class="c" y="102.5"><tspan x="238.5">0.00%</tspan><tspan x="478.5">0.00%</tspan><tspan x="718.5">0.00%</tspan><tspan x="958.5">0.00%</tspan></text>
</g>

<g id="row29" transform="translate(31.5,4153.5)">
<use href="#S3"/>
<rect y="11.5" width="480" height="7" fill="#ff0000"/><use href="#nR" y="15"/>
<rect y="41.5" width="480" height="7" fill="#0000ff"/><use href="#nB" y="45"/>
<text class="q" y="-19.5"><tspan x="-0.5">♩</tspan><tspan x="239.5">♩</tspan></text>
<text class="tp" y="-20"><tspan x="5">=145</tspan><tspan x="245">=144</tspan></text>
<text class="mn" y="-8"><tspan x="0.5">113</tspan><tspan x="240.5">114</tspan><tspan x="480.5">115</tspan></text>
<text class="a" y="76.5"><tspan x="238.5">146</tspan><tspan x="478.5">96</tspan><tspan x="718.5">0</tspan></text>
<text class="b" y="90"><tspan x="238.5">157838</tspan><tspan x="478.5">158222</tspan><tspan x="718.5">158222</tspan></text>
<text class="c" y="102.5"><tspan x="238.5">0.00%</tspan><tspan x="478.5">0.00%</tspan><tspan x="718.5">0.00%</tspan></text>
</g>
</g>
</svg>
